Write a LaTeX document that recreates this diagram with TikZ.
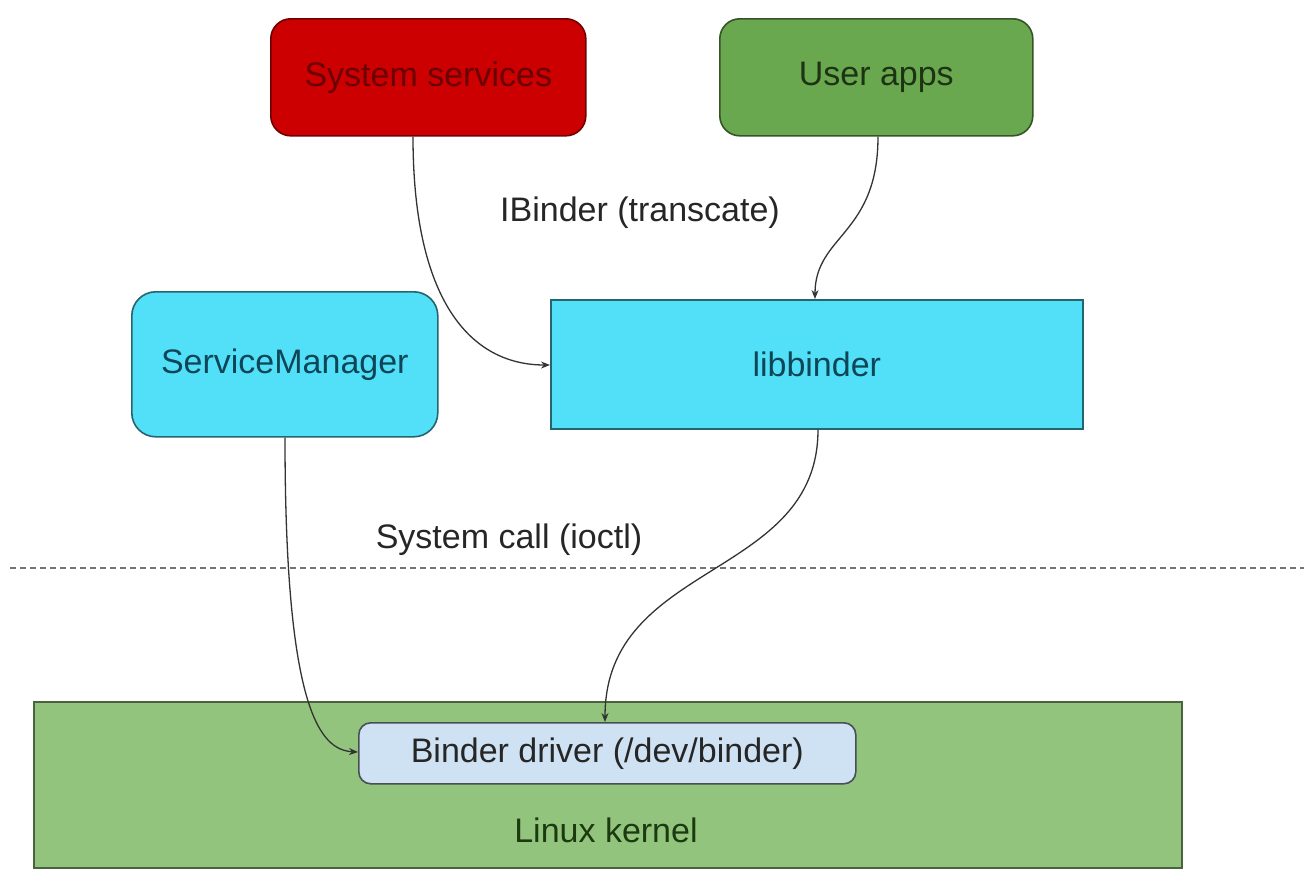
\documentclass[tikz,border=0pt]{standalone}
\usepackage{fontspec}
\setmainfont{Liberation Sans}
\usetikzlibrary{arrows.meta}
\definecolor{ssred}{HTML}{CC0000}
\definecolor{ssredtxt}{HTML}{6A0000}
\definecolor{uagreen}{HTML}{6AA84F}
\definecolor{uatxt}{HTML}{1E3314}
\definecolor{cyanbox}{HTML}{52E0F8}
\definecolor{cyantxt}{HTML}{0E4658}
\definecolor{kgreen}{HTML}{93C47D}
\definecolor{ktxt}{HTML}{1B3A10}
\definecolor{drvblue}{HTML}{CFE2F3}
\definecolor{txtdark}{HTML}{262626}
\definecolor{linecol}{HTML}{333333}
\begin{document}
\begin{tikzpicture}[x=1pt,y=-1pt,
  lbl/.style={font=\fontsize{34}{40}\selectfont, text=txtdark},
  boxbase/.style={line width=1.6pt, font=\fontsize{34}{40}\selectfont, inner sep=0pt, anchor=north west},
  conn/.style={line width=1.3pt, draw=linecol, -{Stealth[length=9pt,width=7pt]}}
]
\useasboundingbox (0,0) rectangle (1304,871);
\fill[white] (0,0) rectangle (1304,871);
% kernel
\node[boxbase, fill=kgreen, draw=kgreen!50!black, minimum width=1148pt, minimum height=166pt] (kernel) at (33,701) {};
\node[lbl, text=ktxt] (kerneltxt) at (606,830) {Linux kernel};
% boxes
\node[boxbase, fill=ssred, draw=ssred!55!black, rounded corners=20pt, minimum width=315pt, minimum height=117pt, text=ssredtxt] (ss) at (270,18) {System services};
\node[boxbase, fill=uagreen, draw=uagreen!50!black, rounded corners=20pt, minimum width=313pt, minimum height=117pt, text=uatxt] (ua) at (719,18) {User apps};
\node[boxbase, fill=cyanbox, draw=cyanbox!45!black, rounded corners=24pt, minimum width=306pt, minimum height=145pt, text=cyantxt] (sm) at (131,291) {ServiceManager};
\node[boxbase, fill=cyanbox, draw=cyanbox!45!black, minimum width=532pt, minimum height=129pt, text=cyantxt] (lib) at (550,299) {libbinder};
\node[boxbase, fill=drvblue, draw=drvblue!35!black, rounded corners=12pt, minimum width=497pt, minimum height=61pt, text=txtdark] (drv) at (358,722) {Binder driver (/dev/binder)};
% labels
\node[lbl] (ibl) at (640,213) {IBinder (transcate)};
\node[lbl] (scl) at (509,540) {System call (ioctl)};
% dashed separator
\coordinate (dl) at (10,568);
\coordinate (dr) at (1304,568);
\draw[line width=1.5pt, draw=black!55, dash pattern=on 6pt off 4pt] (dl) -- (dr);
% connectors
\draw[conn] (ss.south -| 413,0) .. controls (413,300) and (470,365) .. (lib.west |- 0,365);
\draw[conn] (ua.south -| 878,0) .. controls (878,235) and (815,235) .. (lib.north -| 815,0);
\draw[conn] (sm.south -| 285,0) .. controls (285,710) and (320,750) .. (drv.west |- 0,752);
\draw[conn] (lib.south -| 818,0) .. controls (818,580) and (605,560) .. (drv.north -| 605,0);
\end{tikzpicture}
\end{document}
